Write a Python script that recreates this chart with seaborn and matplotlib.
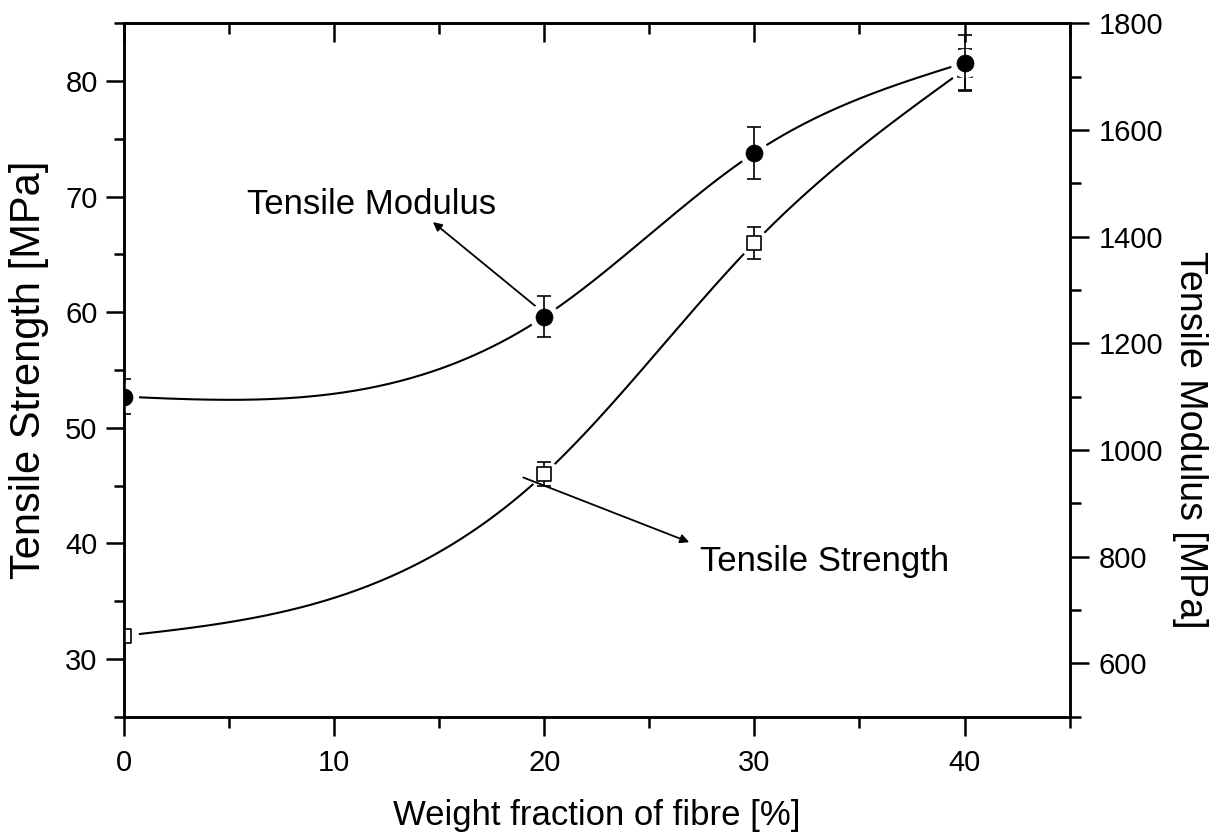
import numpy as np
import pandas as pd
import matplotlib
matplotlib.use("Agg")
import matplotlib.pyplot as plt
import seaborn as sns
from matplotlib.ticker import MultipleLocator

# ---- data ----
fibre = [0, 20, 30, 40]                      # weight fraction of fibre [%]
strength = [32.0, 46.0, 66.0, 81.0]          # tensile strength [MPa]
strength_err = [0.3, 1.0, 1.4, 1.8]
modulus = [1100, 1250, 1557, 1726]           # tensile modulus [MPa]
modulus_err = [33, 38, 48, 52]


def natural_spline(x, y, n=300):
    x = np.asarray(x, float)
    y = np.asarray(y, float)
    k = len(x)
    h = np.diff(x)
    A = np.zeros((k, k))
    r = np.zeros(k)
    A[0, 0] = A[-1, -1] = 1.0
    for i in range(1, k - 1):
        A[i, i - 1] = h[i - 1]
        A[i, i] = 2 * (h[i - 1] + h[i])
        A[i, i + 1] = h[i]
        r[i] = 6 * ((y[i + 1] - y[i]) / h[i] - (y[i] - y[i - 1]) / h[i - 1])
    M = np.linalg.solve(A, r)
    xs = np.linspace(x[0], x[-1], n)
    idx = np.clip(np.searchsorted(x, xs) - 1, 0, k - 2)
    x0, x1 = x[idx], x[idx + 1]
    hh = x1 - x0
    ys = (M[idx] * (x1 - xs) ** 3 / (6 * hh) + M[idx + 1] * (xs - x0) ** 3 / (6 * hh)
          + (y[idx] / hh - M[idx] * hh / 6) * (x1 - xs)
          + (y[idx + 1] / hh - M[idx + 1] * hh / 6) * (xs - x0))
    return xs, ys


sns.set_theme(style="ticks")
plt.rcParams['font.family'] = ['Liberation Sans', 'DejaVu Sans']
plt.rcParams.update({
    'axes.linewidth': 1.8,
    'text.color': 'black',
    'axes.labelcolor': 'black',
    'xtick.color': 'black',
    'ytick.color': 'black',
    'axes.edgecolor': 'black',
})

fig = plt.figure(figsize=(12.28, 8.32), dpi=100)
ax = fig.add_axes([0.101, 0.1386, 0.770, 0.8334])
ax2 = ax.twinx()

# smooth curves
xs, ys = natural_spline(fibre, strength)
sns.lineplot(x=xs, y=ys, ax=ax, color="black", lw=1.5, zorder=2)
xm, ym = natural_spline(fibre, modulus)
sns.lineplot(x=xm, y=ym, ax=ax2, color="black", lw=1.5, zorder=2)

df_s = pd.DataFrame({"x": fibre, "y": strength})
df_m = pd.DataFrame({"x": fibre, "y": modulus})

# white gaps around markers
ax.plot(fibre, strength, 'o', ms=21, mfc="white", mec="none", zorder=2.1)
ax2.plot(fibre, modulus, 'o', ms=21, mfc="white", mec="none", zorder=2.1)

# error bars
ax.errorbar(fibre, strength, yerr=strength_err, fmt='none', ecolor='black',
            elinewidth=1.2, capsize=5, capthick=1.2, zorder=2.2)
ax2.errorbar(fibre, modulus, yerr=modulus_err, fmt='none', ecolor='black',
             elinewidth=1.2, capsize=5, capthick=1.2, zorder=2.2)

# markers
sns.scatterplot(data=df_s, x="x", y="y", ax=ax, marker='s', s=95,
                facecolor='white', edgecolor='black', linewidth=1.2, zorder=3)
sns.scatterplot(data=df_m, x="x", y="y", ax=ax2, marker='o', s=150,
                color='black', edgecolor='black', linewidth=0.5, zorder=3)

# axes limits and ticks
ax.set_xlim(0, 45)
ax.set_ylim(25, 85)
ax2.set_ylim(500, 1800)

ax.xaxis.set_major_locator(MultipleLocator(10))
ax.xaxis.set_minor_locator(MultipleLocator(5))
ax.yaxis.set_major_locator(MultipleLocator(10))
ax.yaxis.set_minor_locator(MultipleLocator(5))
ax2.yaxis.set_major_locator(MultipleLocator(200))
ax2.yaxis.set_minor_locator(MultipleLocator(100))

fs_tick = 21
ax.tick_params(axis='x', which='major', direction='out', length=14, width=1.8,
               labelsize=fs_tick, pad=9, top=False, bottom=True)
ax.tick_params(axis='x', which='minor', direction='out', length=8, width=1.8,
               top=False, bottom=True)
ax.tick_params(axis='y', which='major', direction='out', length=13, width=1.8,
               labelsize=fs_tick, pad=6, left=True, right=False)
ax.tick_params(axis='y', which='minor', direction='out', length=7, width=1.8,
               left=True, right=False)
ax2.tick_params(axis='y', which='major', direction='out', length=14, width=1.8,
                labelsize=fs_tick, pad=7, left=False, right=True)
ax2.tick_params(axis='y', which='minor', direction='out', length=8, width=1.8,
                left=False, right=True)

top = ax.secondary_xaxis('top')
top.xaxis.set_major_locator(MultipleLocator(10))
top.xaxis.set_minor_locator(MultipleLocator(5))
top.tick_params(axis='x', which='major', direction='in', length=14, width=1.8,
                labeltop=False)
top.tick_params(axis='x', which='minor', direction='in', length=8, width=1.8)
top.spines['top'].set_linewidth(1.8)

for a in (ax, ax2):
    for s in a.spines.values():
        s.set_linewidth(1.8)
        s.set_color('black')
    a.set_xlabel("")
    a.set_ylabel("")

ax.set_xlabel("Weight fraction of fibre [%]", fontsize=25, labelpad=16)
ax.set_ylabel("Tensile Strength [MPa]", fontsize=30, va='center')
ax.yaxis.set_label_coords(-0.100, 0.50)
ax2.set_ylabel("Tensile Modulus [MPa]", fontsize=27, rotation=270, va='center')
ax2.yaxis.set_label_coords(1.127, 0.40)

# annotations
arrow = dict(arrowstyle='-|>', color='black', lw=1.3, mutation_scale=13,
             shrinkA=0, shrinkB=0)
ax.annotate("", xy=(14.7, 67.8), xytext=(19.6, 60.5), arrowprops=arrow)
ax.text(5.85, 69.3, "Tensile Modulus", fontsize=25, ha='left', va='center')
ax.annotate("", xy=(26.9, 40.1), xytext=(19.0, 45.7), arrowprops=arrow)
ax.text(27.4, 38.4, "Tensile Strength", fontsize=25, ha='left', va='center')

fig.savefig("out.png", dpi=100)
